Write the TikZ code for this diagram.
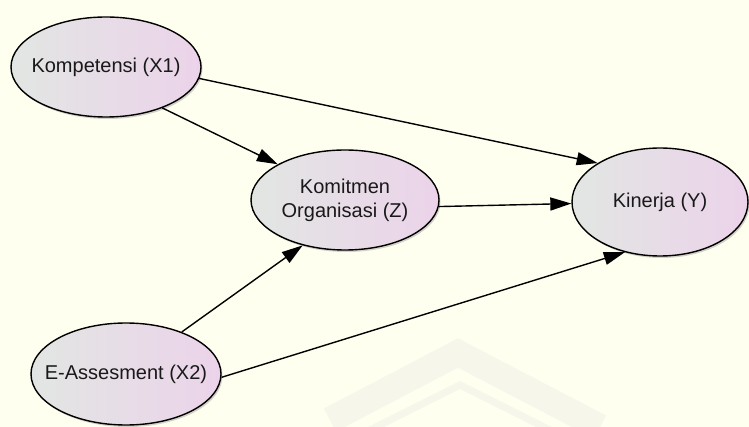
\documentclass[tikz,border=0pt]{standalone}
\usepackage{fontspec}
\setmainfont{Liberation Sans}
\usetikzlibrary{shapes.geometric,shadows,arrows.meta}
\definecolor{bgcream}{HTML}{FFFFF0}
\definecolor{markcream}{HTML}{F6F6EA}
\definecolor{shadeleft}{HTML}{E2E6E3}
\definecolor{shaderight}{HTML}{ECD3EA}
\begin{document}
\begin{tikzpicture}[x=1pt,y=-1pt,
		var/.style={ellipse,draw,line width=1.4pt,left color=shadeleft,right color=shaderight,
			drop shadow={shadow xshift=1.5pt,shadow yshift=-2pt,opacity=0.35},
			inner xsep=-45pt,inner ysep=0pt,align=center,text=black!90,font=\fontsize{20}{24}\selectfont},
		rel/.style={line width=1.4pt,-{Triangle[length=21pt,width=13pt]}}]
	\fill[bgcream] (0,0) rectangle (749,427);
	\useasboundingbox (0,0) rectangle (749,427);
	\begin{scope}
		\clip (0,0) rectangle (749,427);
		\draw[markcream,line width=26pt] (330,420) -- (458,353) -- (600,427);
		\draw[markcream,line width=7pt] (350,440) -- (460,385) -- (570,440);
	\end{scope}
	\node [var,minimum width=190pt,minimum height=100pt] (x1) at (106,67) {Kompetensi (X1)};
	\node [var,minimum width=188pt,minimum height=100pt] (z) at (345,200) {Komitmen\\Organisasi (Z)};
	\node [var,minimum width=176pt,minimum height=108pt] (y) at (660,202) {Kinerja (Y)};
	\node [var,minimum width=190pt,minimum height=102pt] (x2) at (126,374) {E-Assesment (X2)};
	\draw[rel] (x1.-7) -- (y.148);
	\draw[rel] (x1.-36) -- (z.152);
	\draw[rel] (z.-4) -- (y.181);
	\draw[rel] (x2.37) -- (z.227);
	\draw[rel] (x2.-2) -- (y.235);
\end{tikzpicture}
\end{document}
